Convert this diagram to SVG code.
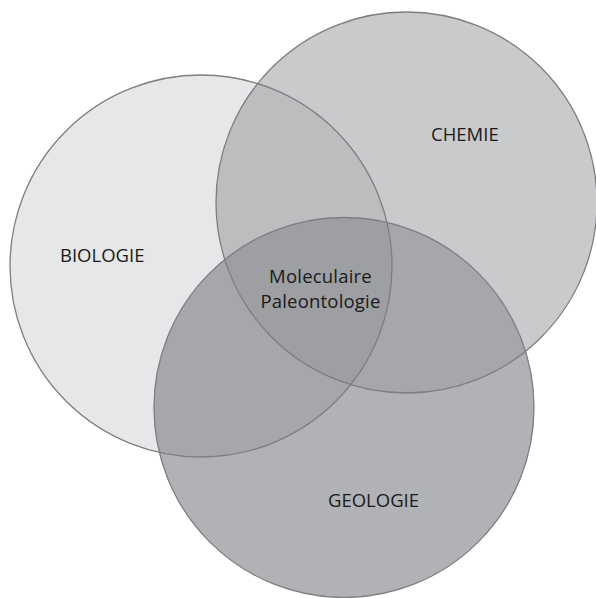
<svg xmlns="http://www.w3.org/2000/svg" width="596" height="598" viewBox="0 0 596 598">
<style>
.c{stroke:#7d7e80;stroke-width:1.3;fill:none}
.t{font-family:"Open Sans","Noto Sans",sans-serif;font-size:18.5px;fill:#1a1a1a}
.m{letter-spacing:0.2px}
</style>
<defs>
<clipPath id="cb"><circle cx="201" cy="266" r="191"/></clipPath>
<clipPath id="cc"><circle cx="406.5" cy="202.5" r="190.5"/></clipPath>
</defs>
<rect width="596" height="598" fill="#fff"/>
<g id="fills">
<circle cx="201" cy="266" r="191" fill="#e6e7e9"/>
<circle cx="406.5" cy="202.5" r="190.5" fill="#c9cacc"/>
<circle cx="344" cy="407.5" r="190" fill="#b1b2b5"/>
<g clip-path="url(#cb)"><circle cx="406.5" cy="202.5" r="190.5" fill="#bcbdbf"/><circle cx="344" cy="407.5" r="190" fill="#a6a7aa"/></g>
<g clip-path="url(#cc)"><circle cx="344" cy="407.5" r="190" fill="#a6a7aa"/></g>
<g clip-path="url(#cb)"><g clip-path="url(#cc)"><circle cx="344" cy="407.5" r="190" fill="#9e9fa2"/></g></g>
</g>
<g id="biologie"><circle class="c" cx="201" cy="266" r="191"/><text class="t" x="60" y="262">BIOLOGIE</text></g>
<g id="chemie"><circle class="c" cx="406.5" cy="202.5" r="190.5"/><text class="t" x="431" y="141">CHEMIE</text></g>
<g id="geologie"><circle class="c" cx="344" cy="407.5" r="190"/><text class="t" x="328" y="507">GEOLOGIE</text></g>
<g id="center"><text class="t m" text-anchor="middle" x="320.5" y="282.5">Moleculaire</text><text class="t m" text-anchor="middle" x="320.5" y="308">Paleontologie</text></g>
<g id="connectors"/>
</svg>
